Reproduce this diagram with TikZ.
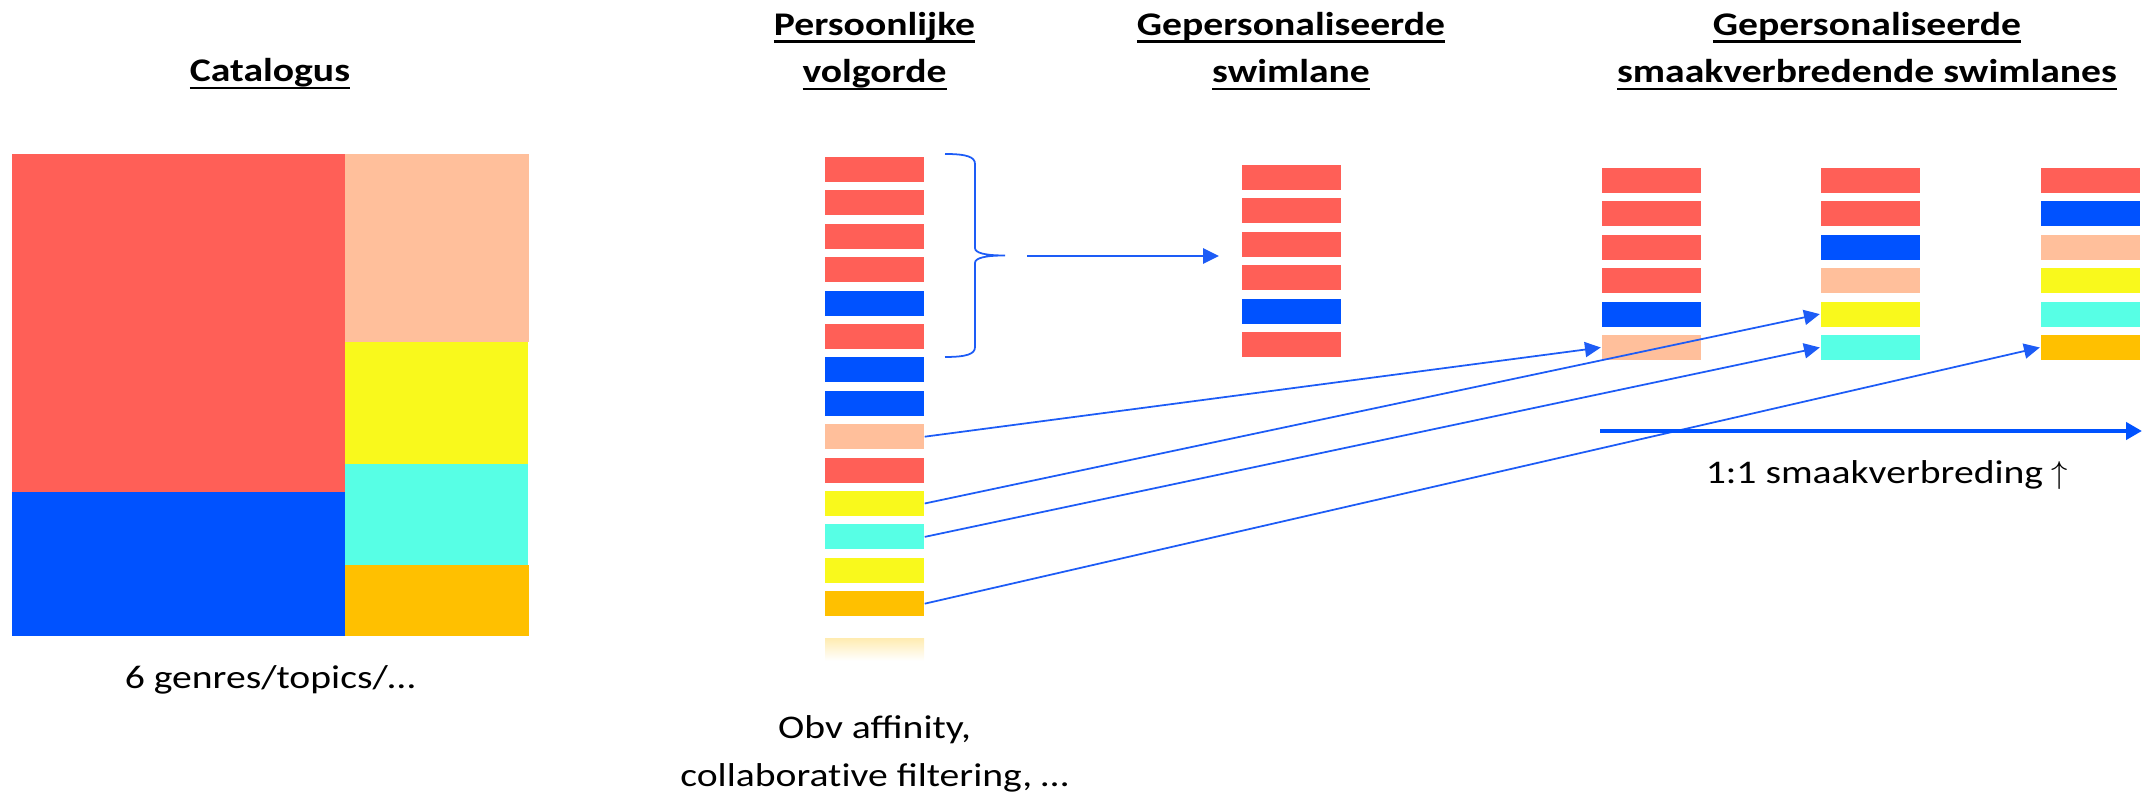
\documentclass[tikz,border=0pt]{standalone}
\usepackage{fontspec}
\setmainfont{Carlito}[FakeStretch=1.2]
\usetikzlibrary{positioning, arrows.meta}

\definecolor{genrered}{HTML}{FF5F57}
\definecolor{genreblue}{HTML}{0052FF}
\definecolor{genrepeach}{HTML}{FFBF9B}
\definecolor{genreyellow}{HTML}{F9F91C}
\definecolor{genrecyan}{HTML}{57FFE5}
\definecolor{genreorange}{HTML}{FFC000}
\definecolor{linkblue}{HTML}{1D5CF6}

\newcommand{\ulin}[1]{\setbox0\hbox{#1}\rlap{\rule[-2.1pt]{\wd0}{0.7pt}}\box0}

\begin{document}
\begin{tikzpicture}[node distance=0.334cm,
  barbox/.style={rectangle,minimum width=0.99cm,minimum height=0.25cm,inner sep=0pt,fill=#1},
  fadebar/.style={rectangle,minimum width=0.99cm,minimum height=0.22cm,inner sep=0pt,
    top color=genreorange!30,bottom color=white},
  heading/.style={font=\fontsize{9.4}{13.6}\selectfont\bfseries,align=center,inner sep=0pt},
  subtext/.style={font=\fontsize{9.4}{13.9}\selectfont,align=center,inner sep=0pt},
  conn/.style={draw=linkblue,line width=0.5pt,-{Triangle[length=4.5pt,width=4.3pt]}}]

\useasboundingbox (0,0) rectangle (21.55,-7.98);

% catalogus
\node[heading,anchor=base] (cat) at (2.70,-0.82) {\ulin{Catalogus}};
\fill[genrered] (0.12,-1.54) rectangle (3.45,-4.92);
\fill[genreblue] (0.12,-4.92) rectangle (3.45,-6.36);
\fill[genrepeach] (3.45,-1.54) rectangle (5.29,-3.42);
\fill[genreyellow] (3.45,-3.42) rectangle (5.28,-4.64);
\fill[genrecyan] (3.45,-4.64) rectangle (5.28,-5.65);
\fill[genreorange] (3.45,-5.65) rectangle (5.29,-6.36);
\node[subtext,anchor=base] (genres) at (2.70,-6.89) {6 genres/topics/…};

% persoonlijke volgorde
\node[heading,anchor=base] (pv) at (8.745,-0.83) {\ulin{Persoonlijke}\\\ulin{volgorde}};
\node[barbox=genrered] (v1) at (8.745,-1.695) {};
\node[barbox=genrered] (v2) [below of=v1] {};
\node[barbox=genrered] (v3) [below of=v2] {};
\node[barbox=genrered] (v4) [below of=v3] {};
\node[barbox=genreblue] (v5) [below of=v4] {};
\node[barbox=genrered] (v6) [below of=v5] {};
\node[barbox=genreblue] (v7) [below of=v6] {};
\node[barbox=genreblue] (v8) [below of=v7] {};
\node[barbox=genrepeach] (v9) [below of=v8] {};
\node[barbox=genrered] (v10) [below of=v9] {};
\node[barbox=genreyellow] (v11) [below of=v10] {};
\node[barbox=genrecyan] (v12) [below of=v11] {};
\node[barbox=genreyellow] (v13) [below of=v12] {};
\node[barbox=genreorange] (v14) [below of=v13] {};
\node[fadebar] (v15) [below=0.21cm of v14] {};
\node[subtext,anchor=base] (obv) at (8.745,-7.87) {Obv affinity,\\collaborat\kern0pt ive filtering, …};

% gepersonaliseerde swimlane
\node[heading,anchor=base] (gs) at (12.91,-0.83) {\ulin{Gepersonaliseerde}\\\ulin{swimlane}};
\node[barbox=genrered] (s1) at (12.91,-1.775) {};
\node[barbox=genrered] (s2) [below of=s1] {};
\node[barbox=genrered] (s3) [below of=s2] {};
\node[barbox=genrered] (s4) [below of=s3] {};
\node[barbox=genreblue] (s5) [below of=s4] {};
\node[barbox=genrered] (s6) [below of=s5] {};

% accolade om de eerste zes
\coordinate (bt) at (9.45,-1.54);
\draw[linkblue,line width=0.5pt] (bt)
  .. controls +(0.22,0) and +(0,0.07) .. ++(0.3,-0.1) -- ++(0,-0.84)
  .. controls +(0,-0.05) and +(-0.2,0) .. ++(0.3,-0.075)
  .. controls +(-0.2,0) and +(0,0.05) .. ++(-0.3,-0.075) -- ++(0,-0.84)
  .. controls +(0,-0.07) and +(0.22,0) .. ++(-0.3,-0.1);
\coordinate (bs) at (10.27,-2.56);
\coordinate (be) at (12.19,-2.56);
\draw[conn] (bs) -- (be);

% smaakverbredende swimlanes
\node[heading,anchor=base] (gss) at (18.67,-0.83) {\ulin{Gepersonaliseerde}\\\ulin{smaakverbredende swimlanes}};
\node[barbox=genrered] (a1) at (16.51,-1.805) {};
\node[barbox=genrered] (a2) [below of=a1] {};
\node[barbox=genrered] (a3) [below of=a2] {};
\node[barbox=genrered] (a4) [below of=a3] {};
\node[barbox=genreblue] (a5) [below of=a4] {};
\node[barbox=genrepeach] (a6) [below of=a5] {};

\node[barbox=genrered] (b1) at (18.70,-1.805) {};
\node[barbox=genrered] (b2) [below of=b1] {};
\node[barbox=genreblue] (b3) [below of=b2] {};
\node[barbox=genrepeach] (b4) [below of=b3] {};
\node[barbox=genreyellow] (b5) [below of=b4] {};
\node[barbox=genrecyan] (b6) [below of=b5] {};

\node[barbox=genrered] (c1) at (20.90,-1.805) {};
\node[barbox=genreblue] (c2) [below of=c1] {};
\node[barbox=genrepeach] (c3) [below of=c2] {};
\node[barbox=genreyellow] (c4) [below of=c3] {};
\node[barbox=genrecyan] (c5) [below of=c4] {};
\node[barbox=genreorange] (c6) [below of=c5] {};

\draw[conn] (v9.east) -- (a6.west);
\draw[conn] (v11.east) -- (b5.west);
\draw[conn] (v12.east) -- (b6.west);
\draw[conn] (v14.east) -- (c6.west);

\coordinate (ws) at (16.00,-4.31);
\coordinate (we) at (21.42,-4.31);
\draw[genreblue,line width=1.2pt,-{Triangle[length=4.5pt,width=4.8pt]}] (ws) -- (we);
\node[subtext,anchor=base] (smaak) at (18.87,-4.84) {1:1 smaakverbreding $\uparrow$};
\end{tikzpicture}
\end{document}
